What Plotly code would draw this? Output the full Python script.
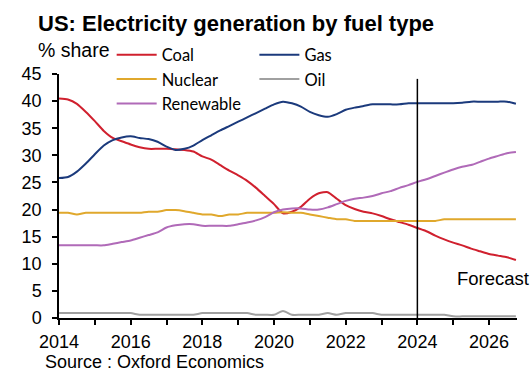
import plotly.graph_objects as go

quarters = [2014 + 0.25 * i for i in range(52)]

coal = [40.5, 40.3, 39.5, 38.0, 36.3, 34.5, 33.2, 32.6,
        32.0, 31.5, 31.2, 31.2, 31.2, 31.1, 31.0, 30.7,
        29.8, 29.2, 28.2, 27.2, 26.3, 25.3, 24.0, 22.5,
        21.0, 19.3, 19.6, 20.5, 22.0, 23.0, 23.2, 22.0,
        20.8, 20.1, 19.6, 19.3, 18.8, 18.2, 17.7, 17.2,
        16.6, 16.0, 15.2, 14.5, 13.9, 13.4, 12.8, 12.3,
        11.8, 11.5, 11.2, 10.7]
gas = [25.8, 26.0, 27.0, 28.5, 30.2, 31.8, 32.8, 33.3,
       33.5, 33.2, 33.0, 32.5, 31.6, 31.0, 31.2, 31.8,
       32.8, 33.7, 34.6, 35.4, 36.2, 37.0, 37.8, 38.6,
       39.4, 39.9, 39.6, 39.0, 38.0, 37.4, 37.1, 37.6,
       38.4, 38.8, 39.1, 39.4, 39.4, 39.4, 39.4, 39.6,
       39.6, 39.6, 39.6, 39.6, 39.6, 39.7, 39.9, 39.9,
       39.9, 39.9, 39.9, 39.5]
nuclear = [19.4, 19.4, 19.1, 19.4, 19.4, 19.4, 19.4, 19.4,
           19.4, 19.4, 19.6, 19.6, 19.9, 19.9, 19.7, 19.4,
           19.1, 19.1, 18.8, 19.1, 19.1, 19.4, 19.4, 19.4,
           19.4, 19.5, 19.4, 19.4, 19.1, 18.8, 18.5, 18.2,
           18.2, 17.9, 17.9, 17.9, 17.9, 17.9, 17.9, 17.9,
           17.9, 17.9, 17.9, 18.2, 18.2, 18.2, 18.2, 18.2,
           18.2, 18.2, 18.2, 18.2]
oil = [0.9, 0.9, 0.9, 0.9, 0.9, 0.9, 0.9, 0.9,
       0.9, 0.6, 0.6, 0.6, 0.6, 0.6, 0.6, 0.6,
       0.9, 0.9, 0.9, 0.9, 0.9, 0.9, 0.6, 0.6,
       0.6, 1.3, 0.6, 0.6, 0.6, 0.6, 0.9, 0.6,
       0.9, 0.9, 0.9, 0.9, 0.6, 0.6, 0.6, 0.6,
       0.6, 0.6, 0.6, 0.6, 0.3, 0.3, 0.3, 0.3,
       0.3, 0.3, 0.3, 0.3]
renewable = [13.4, 13.4, 13.4, 13.4, 13.4, 13.4, 13.7, 14.0,
             14.3, 14.8, 15.3, 15.8, 16.7, 17.1, 17.3, 17.3,
             17.0, 17.0, 17.0, 17.0, 17.3, 17.6, 18.0, 18.6,
             19.5, 20.0, 20.2, 20.2, 20.0, 20.0, 20.4, 21.0,
             21.6, 22.0, 22.2, 22.5, 23.0, 23.4, 24.0, 24.5,
             25.1, 25.6, 26.2, 26.8, 27.4, 27.9, 28.2, 28.8,
             29.4, 29.9, 30.4, 30.6]

forecast_start = 2024
y_ticks = [0, 5, 10, 15, 20, 25, 30, 35, 40, 45]
x_ticks = [2014, 2016, 2018, 2020, 2022, 2024, 2026]

series = [
    ("Coal", coal, "#D0202E", "legend"),
    ("Gas", gas, "#1B3A7C", "legend2"),
    ("Nuclear", nuclear, "#E0A82C", "legend"),
    ("Oil", oil, "#A0A0A0", "legend2"),
    ("Renewable", renewable, "#B06AB8", "legend"),
]

fig = go.Figure()
for name, vals, color, leg in series:
    fig.add_trace(go.Scatter(
        x=quarters, y=vals, name=name, mode="lines",
        line=dict(color=color, width=2, shape="spline", smoothing=0.6),
        legend=leg, legendgroup=name,
    ))

fig.add_shape(type="line", xref="x", yref="y", x0=forecast_start, x1=forecast_start,
              y0=0, y1=44.1, line=dict(color="black", width=1.5))

legend_common = dict(
    orientation="v", xanchor="left", yanchor="top",
    font=dict(family="Lato", size=16.5, color="black"),
    bgcolor="rgba(0,0,0,0)", itemwidth=40, tracegroupgap=1,
    traceorder="normal",
)

fig.update_layout(
    width=531, height=372,
    margin=dict(l=59, r=14, t=74, b=54),
    paper_bgcolor="white", plot_bgcolor="white",
    font=dict(family="Liberation Sans", size=18, color="black"),
    showlegend=True,
    legend=dict(x=0.115, y=1.15, **legend_common),
    legend2=dict(x=0.4266, y=1.15, **legend_common),
    xaxis=dict(
        range=[2014, 2026.78], tickvals=x_ticks, ticks="outside", ticklen=5,
        tickwidth=1.5, tickcolor="black", showline=True, linecolor="black",
        linewidth=1.5, showgrid=False, zeroline=False,
        minor=dict(dtick=1, tick0=2014, ticks="outside", ticklen=5, tickwidth=1.5,
                   tickcolor="black", showgrid=False),
        tickfont=dict(size=18), ticklabelstandoff=2,
    ),
    yaxis=dict(
        range=[0, 45], tickvals=y_ticks, ticks="outside", ticklen=5,
        tickwidth=1.5, tickcolor="black", showline=True, linecolor="black",
        linewidth=1.5, showgrid=False, zeroline=False, tickfont=dict(size=18),
        ticklabelstandoff=7,
    ),
    annotations=[
        dict(text="<b>US: Electricity generation by fuel type</b>", xref="paper", yref="paper",
             x=-0.05, y=1.208, xanchor="left", yanchor="middle", showarrow=False,
             font=dict(size=22, family="Liberation Sans")),
        dict(text="% share", xref="paper", yref="paper", x=-0.05, y=1.1,
             xanchor="left", yanchor="middle", showarrow=False, font=dict(size=19.5)),
        dict(text="Forecast", xref="paper", yref="paper", x=1.03, y=0.16,
             xanchor="right", yanchor="middle", showarrow=False, font=dict(size=18.5)),
        dict(text="Source : Oxford Economics", xref="paper", yref="paper", x=-0.035, y=-0.18,
             xanchor="left", yanchor="middle", showarrow=False, font=dict(size=18)),
    ],
)

fig.write_html("out.html")
